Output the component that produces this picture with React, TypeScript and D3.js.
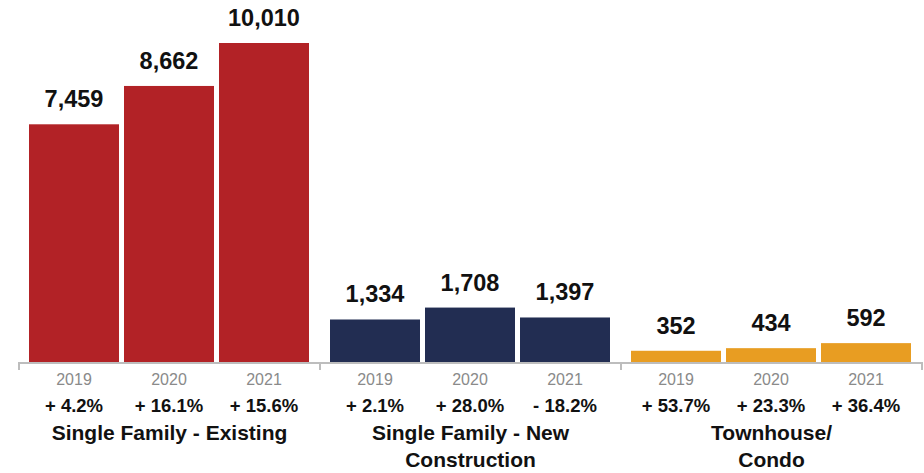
import React from "react";
import * as d3 from "d3";

const categories = ["Single Family - Existing", "Single Family - New Construction", "Townhouse/ Condo"];
const categoryLines = [["Single Family - Existing"], ["Single Family - New", "Construction"], ["Townhouse/", "Condo"]];
const years = ["2019", "2020", "2021"];
const existingValues = [7459, 8662, 10010];
const newConstructionValues = [1334, 1708, 1397];
const condoValues = [352, 434, 592];
const existingChanges = ["+ 4.2%", "+ 16.1%", "+ 15.6%"];
const newConstructionChanges = ["+ 2.1%", "+ 28.0%", "- 18.2%"];
const condoChanges = ["+ 53.7%", "+ 23.3%", "+ 36.4%"];
const colors = ["#B22226", "#222D52", "#E89D22"];

const W = 924;
const H = 473;
const baseY = 362;
const font = "'Liberation Sans', Arial, Helvetica, sans-serif";

export default function App() {
  const seriesValues = [existingValues, newConstructionValues, condoValues];
  const seriesChanges = [existingChanges, newConstructionChanges, condoChanges];
  const outer = d3.scaleBand<string>().domain(categories).range([19, 922]).padding(0);
  const inner = d3.scaleBand<string>().domain(years).range([10, 290]).paddingInner(5 / 95).paddingOuter(0);
  const y = d3.scaleLinear().domain([0, 10010]).range([baseY, 43]);
  const fmt = d3.format(",");
  const ticks = [...categories.map((c) => outer(c)!), 922];

  return (
    <svg width={W} height={H} style={{ position: "absolute", left: 0, top: 0, fontFamily: font }}>
      {categories.map((c, gi) => {
        const gx = outer(c)!;
        return (
          <g key={c}>
            {years.map((yr, i) => {
              const v = seriesValues[gi][i];
              const x = gx + inner(yr)!;
              const bw = inner.bandwidth();
              const cx = x + bw / 2;
              return (
                <g key={yr}>
                  <rect x={x} y={y(v)} width={bw} height={baseY - y(v)} fill={colors[gi]} />
                  <text x={cx} y={y(v) - 17} textAnchor="middle" fontSize={23.5} fontWeight="bold" fill="#111">
                    {fmt(v)}
                  </text>
                  <text x={cx} y={385} textAnchor="middle" fontSize={16} fill="#8a8a8a">
                    {yr}
                  </text>
                  <text x={cx} y={412} textAnchor="middle" fontSize={18.5} fontWeight="bold" fill="#111">
                    {seriesChanges[gi][i]}
                  </text>
                </g>
              );
            })}
            {categoryLines[gi].map((line, li) => (
              <text key={li} x={gx + outer.bandwidth() / 2} y={440 + li * 27} textAnchor="middle" fontSize={21} fontWeight="bold" fill="#111">
                {line}
              </text>
            ))}
          </g>
        );
      })}
      <line x1={19} x2={922} y1={baseY + 1} y2={baseY + 1} stroke="#bdbdbd" strokeWidth={2} />
      {ticks.map((t, i) => (
        <line key={i} x1={t} x2={t} y1={baseY} y2={370} stroke="#bdbdbd" strokeWidth={2} />
      ))}
    </svg>
  );
}
